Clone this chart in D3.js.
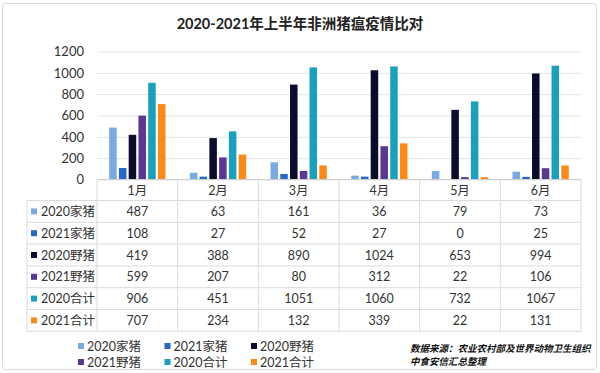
<!DOCTYPE html>
<html>
<head>
<meta charset="utf-8">
<script src="https://cdn.jsdelivr.net/npm/d3@7"></script>
<style>
  body { margin: 0; background: #fff; }
  text { font-family: "Lato", "Noto Sans CJK SC", sans-serif; }
</style>
</head>
<body>
<div id="chart"></div>
<script>
const months = ["1月", "2月", "3月", "4月", "5月", "6月"];
const seriesNames = ["2020家猪", "2021家猪", "2020野猪", "2021野猪", "2020合计", "2021合计"];
const seriesColors = ["#7aa9e3", "#2767c6", "#0b0b2e", "#5a3790", "#18a0be", "#fd8a17"];
const pig2020 = [487, 63, 161, 36, 79, 73];
const pig2021 = [108, 27, 52, 27, 0, 25];
const boar2020 = [419, 388, 890, 1024, 653, 994];
const boar2021 = [599, 207, 80, 312, 22, 106];
const total2020 = [906, 451, 1051, 1060, 732, 1067];
const total2021 = [707, 234, 132, 339, 22, 131];
const yTicks = [0, 200, 400, 600, 800, 1000, 1200];

const allSeries = [pig2020, pig2021, boar2020, boar2021, total2020, total2021];

const W = 600, H = 373;
const plot = {left: 97, right: 581, top: 51.5, bottom: 179.5};

const svg = d3.select("#chart").append("svg")
  .attr("width", W).attr("height", H);

// frame
svg.append("rect")
  .attr("x", 2.5).attr("y", 3.5).attr("width", 594).attr("height", 366)
  .attr("rx", 3).attr("fill", "#fff").attr("stroke", "#d9d9d9");

svg.append("text")
  .attr("x", 300).attr("y", 29)
  .attr("text-anchor", "middle")
  .attr("font-size", 14.5).attr("font-weight", "bold").attr("fill", "#222")
  .text("2020-2021年上半年非洲猪瘟疫情比对");

const x = d3.scaleBand().domain(months).range([plot.left, plot.right]);
const xs = d3.scaleBand().domain(d3.range(6))
  .range([0, x.bandwidth()]).paddingOuter(1.25).paddingInner(0.23);
const y = d3.scaleLinear().domain([0, 1200]).range([plot.bottom, plot.top]);

// grid
const yAxis = d3.axisLeft(y).tickValues(yTicks).tickFormat(d3.format("d"))
  .tickSize(-(plot.right - plot.left)).tickPadding(13);
const gy = svg.append("g").attr("transform", `translate(${plot.left},0)`).call(yAxis);
gy.select(".domain").remove();
gy.selectAll(".tick line").attr("stroke", "#e4e4e4");
gy.selectAll(".tick text").attr("font-size", 13).attr("fill", "#333");

// bars
const groups = svg.append("g").selectAll("g")
  .data(allSeries).join("g")
  .attr("fill", (d, i) => seriesColors[i]);
groups.selectAll("rect")
  .data((d, i) => d.map((v, j) => ({v, j, i})))
  .join("rect")
  .attr("x", d => x(months[d.j]) + xs(d.i))
  .attr("y", d => y(d.v))
  .attr("width", xs.bandwidth())
  .attr("height", d => plot.bottom - y(d.v));

// data table
const rowH = 21.8;
const tableTop = plot.bottom;
const headerBottom = tableTop + 21;
const tableLeft = 27;
const grid = svg.append("g").attr("stroke", "#dcdcdc").attr("stroke-width", 1);
grid.append("line").attr("x1", plot.left).attr("x2", plot.right)
  .attr("y1", tableTop).attr("y2", tableTop).attr("stroke", "#d0d0d0");
for (let r = 0; r <= 6; r++) {
  const yy = headerBottom + r * rowH;
  grid.append("line").attr("x1", tableLeft).attr("x2", plot.right)
    .attr("y1", yy).attr("y2", yy);
}
const tableBottom = headerBottom + 6 * rowH;
grid.append("line").attr("x1", tableLeft).attr("x2", tableLeft)
  .attr("y1", headerBottom).attr("y2", tableBottom);
months.forEach((m, k) => {
  const xx = x(m);
  grid.append("line").attr("x1", xx).attr("x2", xx)
    .attr("y1", tableTop).attr("y2", tableBottom);
});
grid.append("line").attr("x1", plot.right).attr("x2", plot.right)
  .attr("y1", tableTop).attr("y2", tableBottom);

svg.append("g").selectAll("text").data(months).join("text")
  .attr("x", d => x(d) + x.bandwidth() / 2)
  .attr("y", tableTop + 15)
  .attr("text-anchor", "middle").attr("font-size", 12.5).attr("fill", "#333")
  .text(d => d);

allSeries.forEach((vals, i) => {
  const cy = headerBottom + i * rowH + rowH / 2;
  svg.append("rect").attr("x", 31).attr("y", cy - 3).attr("width", 6).attr("height", 6)
    .attr("fill", seriesColors[i]);
  svg.append("text").attr("x", 41).attr("y", cy + 4.5)
    .attr("font-size", 12.5).attr("fill", "#333").text(seriesNames[i]);
  svg.append("g").selectAll("text").data(vals).join("text")
    .attr("x", (d, j) => x(months[j]) + x.bandwidth() / 2)
    .attr("y", cy + 4.5)
    .attr("text-anchor", "middle").attr("font-size", 12.5).attr("fill", "#333")
    .text(d => d);
});

// legend
const legend = svg.append("g").selectAll("g").data(seriesNames).join("g")
  .attr("transform", (d, i) => `translate(${78 + (i % 3) * 86.5},${346 + Math.floor(i / 3) * 16})`);
legend.append("rect").attr("x", 0).attr("y", -3).attr("width", 6).attr("height", 6)
  .attr("fill", (d, i) => seriesColors[i]);
legend.append("text").attr("x", 9).attr("y", 4.5)
  .attr("font-size", 12.5).attr("fill", "#333").text(d => d);

// source note
const note = svg.append("text").attr("font-size", 9.5).attr("font-weight", "bold")
  .attr("font-style", "italic").attr("fill", "#111");
note.append("tspan").attr("x", 410).attr("y", 352).text("数据来源：农业农村部及世界动物卫生组织");
note.append("tspan").attr("x", 410).attr("y", 365).text("中食安信汇总整理");
</script>
</body>
</html>
